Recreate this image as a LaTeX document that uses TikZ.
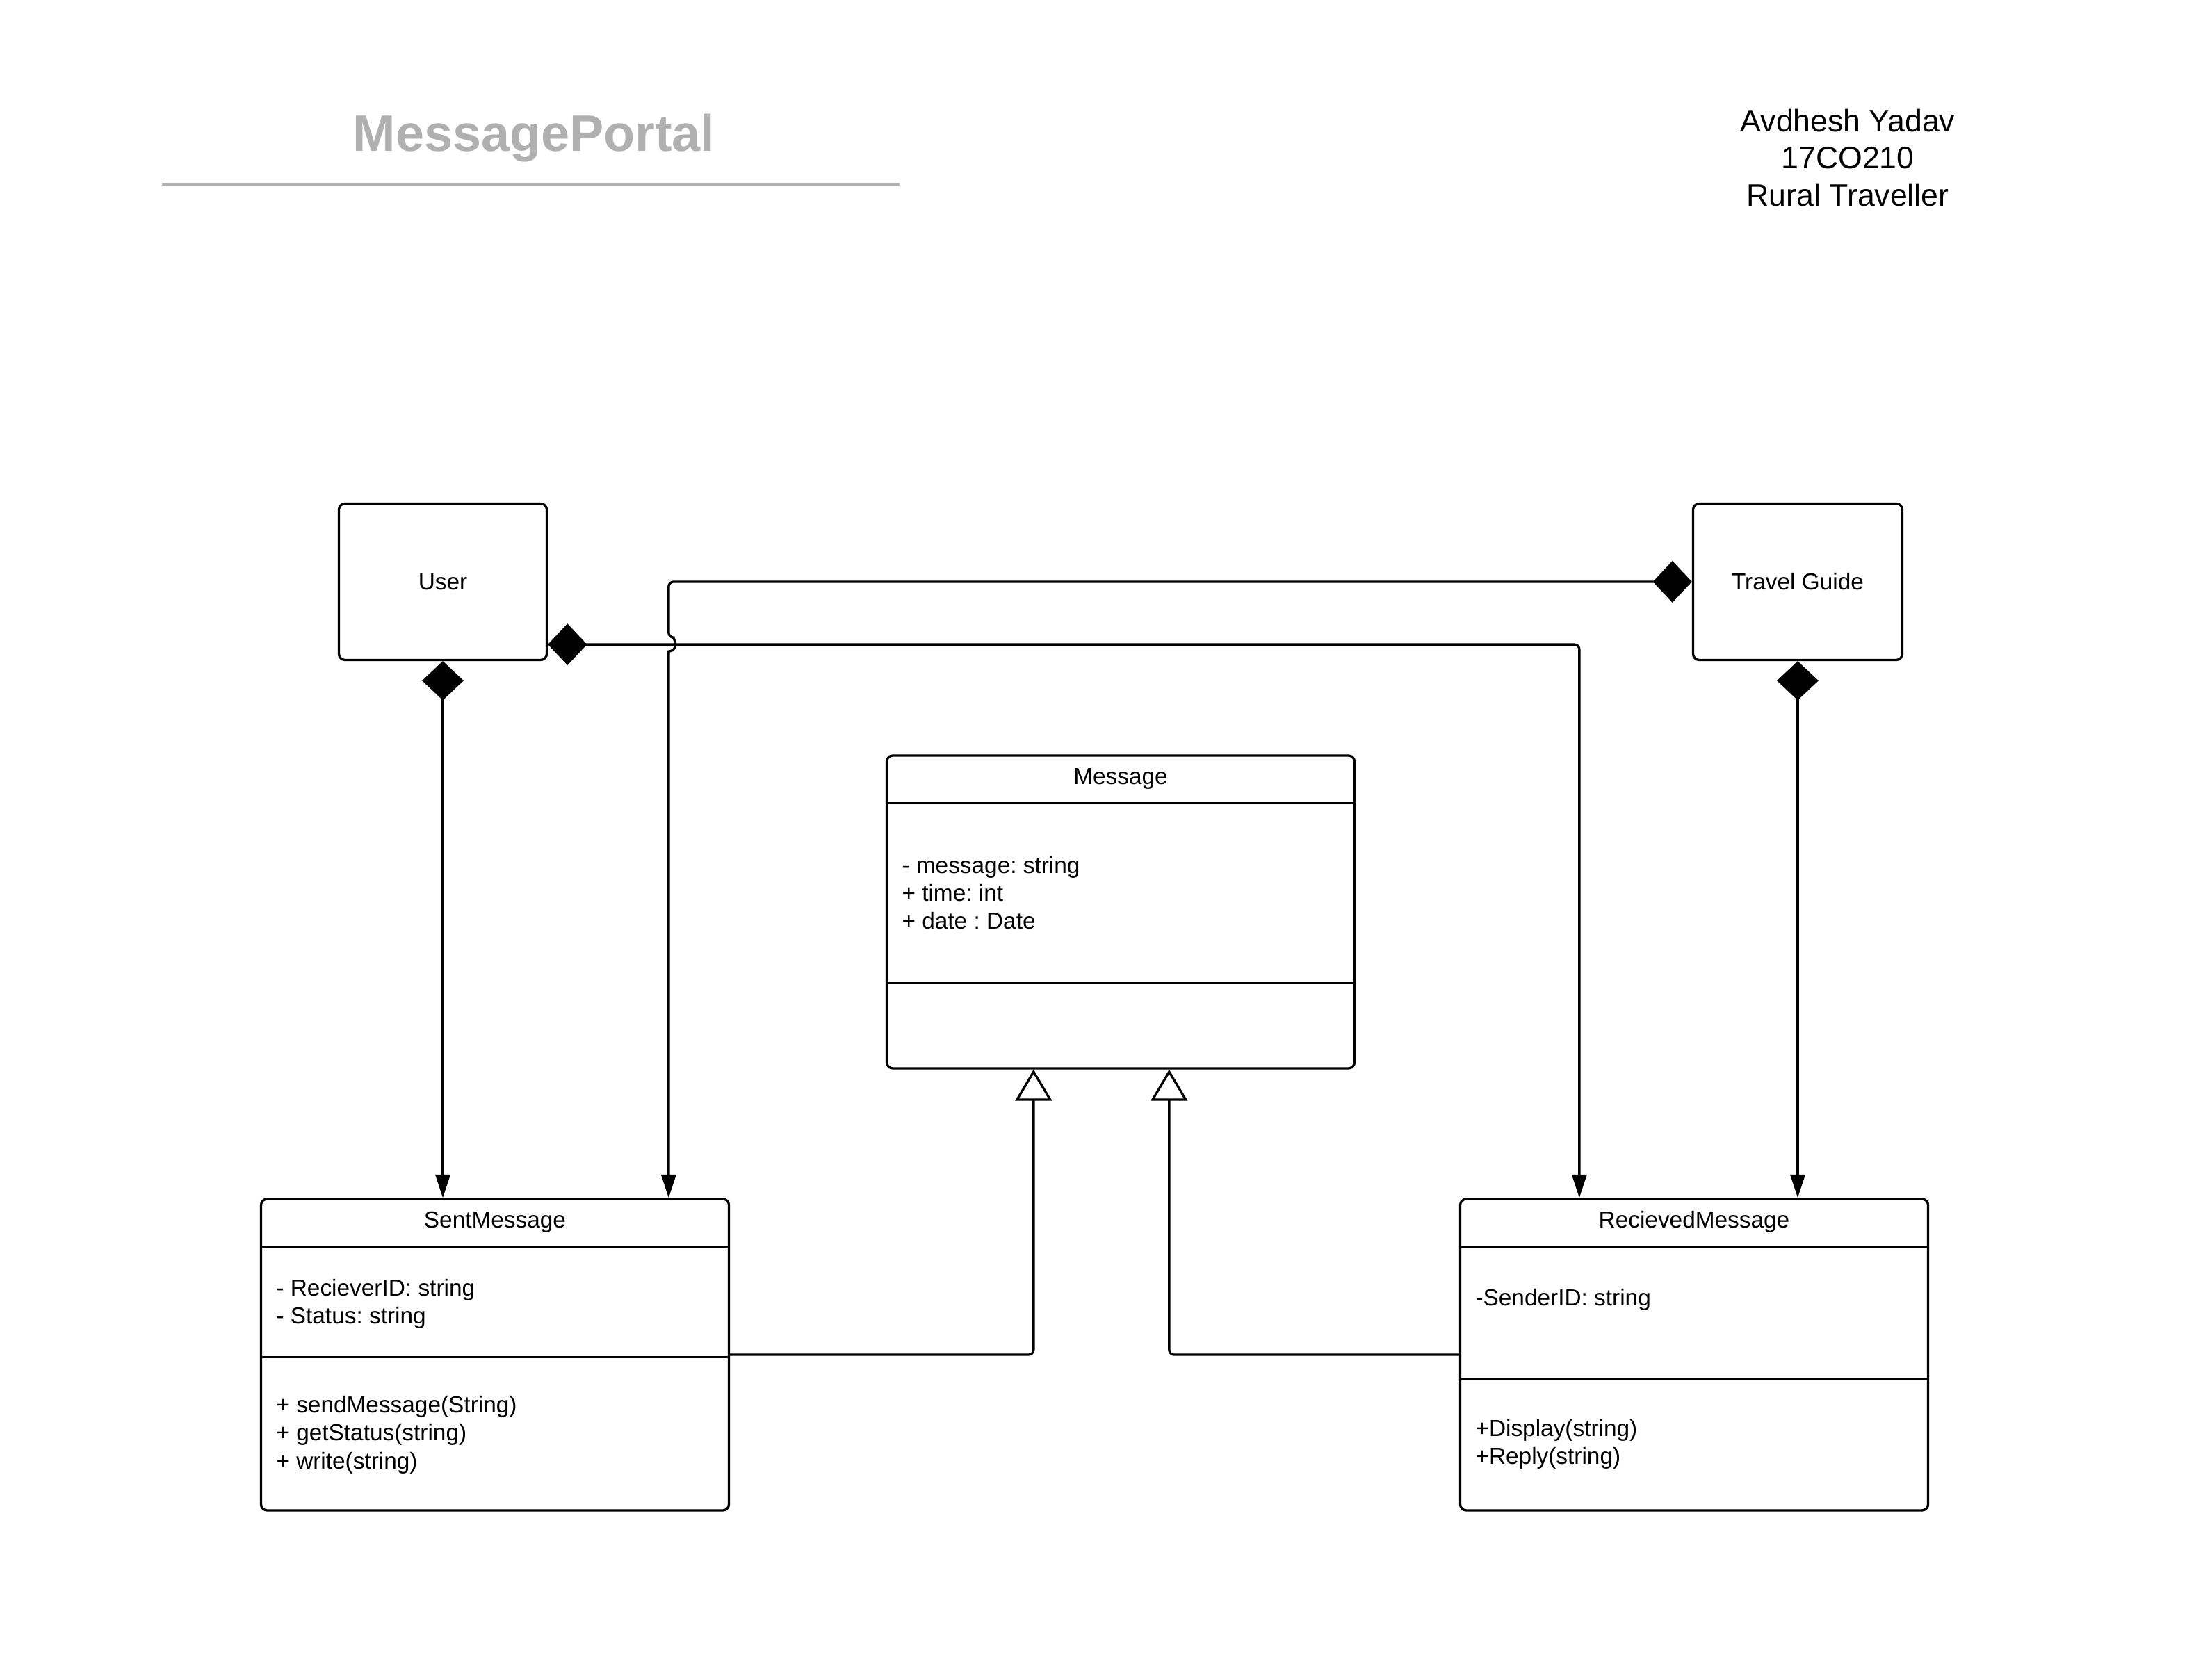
\documentclass[tikz,border=0pt]{standalone}
\usepackage{fontspec}
\setmainfont{Liberation Sans}
\usetikzlibrary{positioning,arrows.meta,calc}
\definecolor{titlegray}{RGB}{176,176,176}
\frenchspacing

\begin{document}
\begin{tikzpicture}[line width=0.95pt, every node/.style={font=\fontsize{9.5}{11.4}\selectfont},
    actor/.style={draw, rounded corners=2.5pt, minimum width=2.99cm, minimum height=2.25cm, inner sep=0pt},
    classbox/.style={draw, rounded corners=2.5pt, minimum width=6.73cm, inner sep=0pt},
    member/.style={anchor=west, align=left, inner sep=0pt},
    compose/.style={{Diamond[length=16pt,width=17pt]}-{Triangle[length=9.5pt,width=6pt]}, rounded corners=2pt},
    inherit/.style={-{Triangle[open,length=12.8pt,width=15pt,fill=white]}, rounded corners=2pt}]
    \useasboundingbox (0,0) rectangle (31.46,24.17);

    % Heading and author block
    \node[font=\fontsize{21}{25}\selectfont\bfseries, text=titlegray] (title) at (7.68,22.18) {MessagePortal};
    \draw[titlegray, line width=1.1pt] (2.33,21.52) -- (12.94,21.52);
    \node[align=center, font=\fontsize{12.7}{15.3}\selectfont] (author) at (26.58,21.90) {Avdhesh Yadav\\17CO210\\Rural Traveller};

    % Actors
    \node[actor] (user) at (6.37,15.80) {User};
    \node[actor, minimum width=3.01cm] (guide) at (25.86,15.80) {Travel Guide};

    % Classes - outer boxes, then compartments
    \node[classbox, minimum height=4.50cm] (msg) at (16.12,11.05) {};
    \node[classbox, minimum height=4.48cm] (sent) at (7.12,4.68) {};
    \node[classbox, minimum height=4.48cm] (recv) at (24.37,4.68) {};
    \foreach \n/\d in {msg/0.70, msg/3.29, sent/0.70, sent/2.29, recv/0.70, recv/2.61} {
        \draw ($(\n.north west)+(0,-\d)$) -- ($(\n.north east)+(0,-\d)$);
    }

    \node (msgname) at ($(msg.north)+(0,-0.35)$) {Message};
    \node (sentname) at ($(sent.north)+(0,-0.35)$) {SentMessage};
    \node (recvname) at ($(recv.north)+(0,-0.35)$) {RecievedMessage};

    \node[member] (msgattr) at ($(msg.north west)+(0.22,-1.99)$) {- message: string\\+ time: int\\+ date : Date};
    \node[member] (sentattr) at ($(sent.north west)+(0.22,-1.53)$) {- RecieverID: string\\- Status: string};
    \node[member] (sentops) at ($(sent.north west)+(0.22,-3.41)$) {+ sendMessage(String)\\+ getStatus(string)\\+ write(string)};
    \node[member] (recvattr) at ($(recv.north west)+(0.22,-1.47)$) {-SenderID: string};
    \node[member] (recvops) at ($(recv.north west)+(0.22,-3.55)$) {+Display(string)\\+Reply(string)};

    % Connector ends
    \coordinate (userout) at ($(user.south east)+(0,0.24)$);
    \coordinate (sentin) at ($(sent.north west)+(5.88,0)$);
    \coordinate (recvin) at ($(recv.north west)+(1.73,0)$);
    \coordinate (msgl) at ($(msg.south west)+(2.13,0)$);
    \coordinate (msgr) at ($(msg.south west)+(4.08,0)$);

    % Compositions
    \draw[compose] (user.south) -- (user.south |- sent.north);
    \draw[compose] (guide.south) -- (guide.south |- recv.north);
    \draw[compose] (userout) -| (recvin);
    \draw[compose] (guide.west) -- (guide.west -| sentin) -- ($(sentin |- userout)+(0,0.10)$)
        [sharp corners] arc[start angle=90, end angle=-90, radius=0.10] -- (sentin);

    % Generalisations
    \draw[inherit] (sent.east) -| (msgl);
    \draw[inherit] (recv.west) -| (msgr);
\end{tikzpicture}
\end{document}
